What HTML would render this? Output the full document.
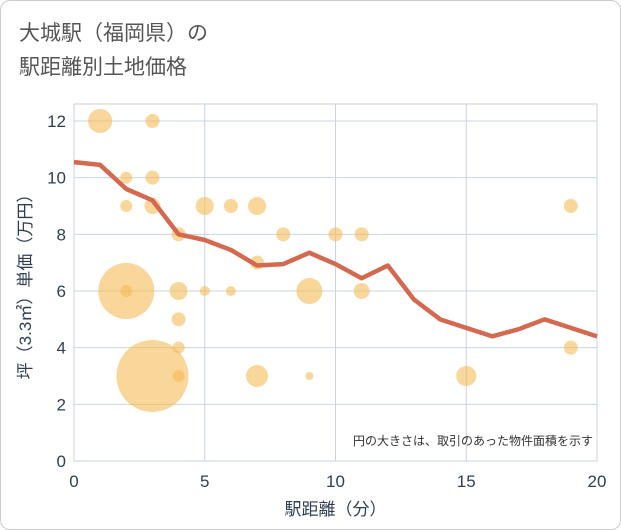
<!DOCTYPE html>
<html><head><meta charset="utf-8"><style>
body{margin:0;background:#fff;font-family:"Liberation Sans","Noto Sans CJK JP",sans-serif;}
#wrap{position:relative;width:619px;height:528px;border:1px solid #ccc;border-radius:10px;background:#fff;overflow:hidden}
.title{position:absolute;left:18px;top:16px;font-size:21px;line-height:34px;color:#555;}
</style></head><body>
<div id="wrap">
<div class="title">大城駅（福岡県）の<br>駅距離別土地価格</div>
<svg id="chart" width="621" height="530" style="position:absolute;left:0;top:0"></svg>
</div>
<script>
const xTicks=[0,5,10,15,20];
const yTicks=[0,2,4,6,8,10,12];
const bubbleX=[1,3,2,3,2,3,5,6,7,19,4,8,10,11,7,2,2,4,5,6,9,11,4,4,19,3,4,7,9,15];
const bubbleY=[12,12,10,10,9,9,9,9,9,9,8,8,8,8,7,6,6,6,6,6,6,6,5,4,4,3,3,3,3,3];
const bubbleR=[12,7,6,7,6,8,9,7,9,7,7,7,7,7,7,28,6,9,5,5,13,8,7,6,7,36,6,11,4,10];
const lineX=[0,1,2,3,4,5,6,7,8,9,10,11,12,13,14,15,16,17,18,19,20];
const lineY=[10.55,10.45,9.6,9.2,8.0,7.8,7.45,6.9,6.95,7.35,6.95,6.45,6.9,5.7,5.0,4.7,4.4,4.65,5.0,4.7,4.4];
const L=73,R=596,T=103,B=460;
const sx=v=>L+(R-L)*v/20, sy=v=>B-(B-T)*v/12.6;
const svg=document.getElementById('chart');const NS='http://www.w3.org/2000/svg';
function mk(t,a){const e=document.createElementNS(NS,t);for(const k in a)e.setAttribute(k,a[k]);svg.appendChild(e);return e;}
let e=mk('rect',{x:L,y:T,width:R-L,height:B-T,fill:'#fff',stroke:'#ccc'});


xTicks.forEach(t=>{const g=mk('line',{x1:sx(t),x2:sx(t),y1:T,y2:B,stroke:'#c8d4e0'});


const tx=mk('text',{x:sx(t),y:B+26,'text-anchor':'middle','font-size':17,fill:'#2f3f52'});tx.textContent=t;

});
yTicks.forEach(t=>{const g=mk('line',{x1:L,x2:R,y1:sy(t),y2:sy(t),stroke:'#c8d4e0'});


const tx=mk('text',{x:L-8,y:sy(t)+6,'text-anchor':'end','font-size':17,fill:'#2f3f52'});tx.textContent=t;

});
bubbleX.forEach((x,i)=>{const c=mk('circle',{cx:sx(x),cy:sy(bubbleY[i]),r:bubbleR[i],fill:'#f5bb55','fill-opacity':0.6});

});
const p=mk('polyline',{points:lineX.map((x,i)=>sx(x)+','+sy(lineY[i])).join(' '),fill:'none',stroke:'#d4694f','stroke-width':4.5,'stroke-linejoin':'round'});


let n=mk('text',{x:592,y:444,'text-anchor':'end','font-size':12,fill:'#333'});n.textContent='円の大きさは、取引のあった物件面積を示す';


let xt=mk('text',{x:(L+R)/2,y:514,'text-anchor':'middle','font-size':17,fill:'#2f3f52'});xt.textContent='駅距離（分）';


let yt=mk('text',{x:0,y:0,'text-anchor':'middle','font-size':17,fill:'#2f3f52',transform:'translate(30,'+(T+B)/2+') rotate(-90)'});yt.textContent='坪（3.3㎡）単価（万円）';


</script>
</body></html>
